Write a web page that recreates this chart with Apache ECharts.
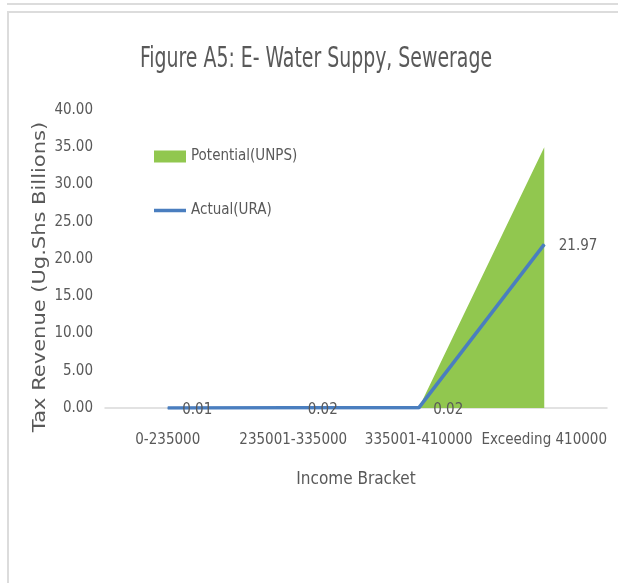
<!DOCTYPE html>
<html>
<head>
<meta charset="utf-8">
<script src="https://cdn.jsdelivr.net/npm/echarts@6/dist/echarts.min.js"></script>
<style>html,body{margin:0;padding:0;background:#fff;}#c{width:618px;height:583px;}</style>
</head>
<body>
<div id="c"></div>
<script>
const categories = ['0-235000', '235001-335000', '335001-410000', 'Exceeding 410000'];
const potentialValues = [0, 0, 0, 35.0];
const actualValues = [0.01, 0.02, 0.02, 21.97];
const yTicks = [0, 5, 10, 15, 20, 25, 30, 35, 40];

const NARROW = '"DejaVu Sans Condensed", "Liberation Sans Narrow", sans-serif';
const chart = echarts.init(document.getElementById('c'), null, {renderer: 'canvas'});
chart.setOption({
  animation: false,
  backgroundColor: '#fff',
  legend: {
    orient: 'vertical', left: 154, top: 149, itemGap: 39, padding: 0,
    itemWidth: 32, itemHeight: 12,
    textStyle: {fontFamily: NARROW, fontSize: 15, color: '#595959'},
    data: [
      {name: 'Potential(UNPS)', icon: 'rect'},
      {name: 'Actual(URA)', icon: 'path://M0,0 L32,0 L32,3.5 L0,3.5 Z'}
    ]
  },
  grid: {left: 105, right: 11, top: 110, bottom: 175, containLabel: false},
  xAxis: {
    type: 'category', data: categories, boundaryGap: true,
    axisLine: {lineStyle: {color: '#d9d9d9', width: 1.5}},
    axisTick: {show: false},
    axisLabel: {fontFamily: NARROW, fontSize: 15, color: '#595959', margin: 25, interval: 0},
    name: 'Income Bracket', nameLocation: 'middle', nameGap: 63,
    nameTextStyle: {fontFamily: NARROW, fontSize: 17, color: '#595959'}
  },
  yAxis: {
    type: 'value', min: 0, max: 40, interval: 5,
    splitLine: {show: false},
    axisLine: {show: false}, axisTick: {show: false},
    axisLabel: {fontFamily: NARROW, fontSize: 15, color: '#595959', margin: 12,
      formatter: v => yTicks.includes(v) ? v.toFixed(2) : ''}
  },
  graphic: [
    {type: 'rect', shape: {x: 7, y: 3, width: 611, height: 2}, style: {fill: '#dcdcdc'}},
    {type: 'rect', shape: {x: 7, y: 11, width: 611, height: 2}, style: {fill: '#dcdcdc'}},
    {type: 'rect', shape: {x: 7, y: 11, width: 2, height: 572}, style: {fill: '#dcdcdc'}},
    {type: 'text', x: 316, y: 60, scaleX: 0.75,
      style: {text: 'Figure A5: E- Water Suppy, Sewerage', fontFamily: NARROW,
        fontSize: 28, fill: '#595959', align: 'center', verticalAlign: 'middle'}},
    {type: 'text', x: 41, y: 277, rotation: Math.PI / 2, scaleY: 0.82,
      style: {text: 'Tax Revenue (Ug.Shs Billions)', fontFamily: '"DejaVu Sans", sans-serif',
        fontSize: 21, fill: '#595959', align: 'center', verticalAlign: 'middle'}}
  ],
  series: [
    {
      name: 'Potential(UNPS)', type: 'line', data: potentialValues,
      symbol: 'none', color: '#91c74f',
      lineStyle: {width: 0}, areaStyle: {color: '#91c74f', opacity: 1}
    },
    {
      name: 'Actual(URA)', type: 'line', data: actualValues,
      symbol: 'circle', symbolSize: 1, color: '#4a7ebf',
      lineStyle: {width: 3.5, color: '#4a7ebf'},
      label: {show: true, position: 'right', distance: 14, offset: [0, 2], formatter: p => p.value.toFixed(2),
        fontFamily: NARROW, fontSize: 15, color: '#595959'}
    }
  ]
});
</script>
</body>
</html>
